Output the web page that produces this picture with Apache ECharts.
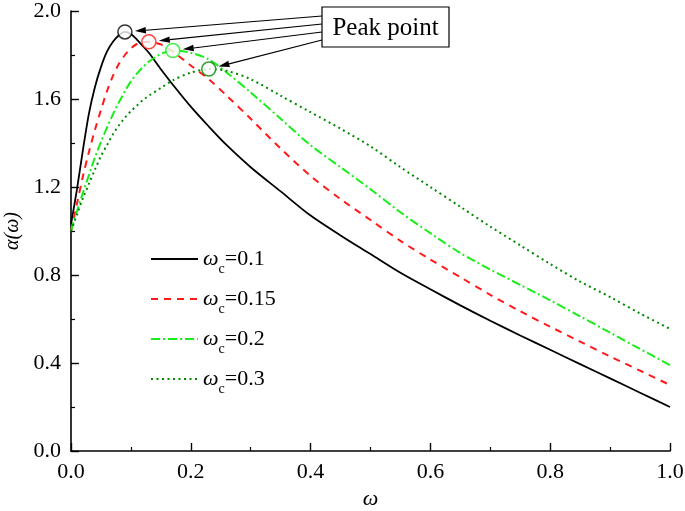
<!DOCTYPE html>
<html><head><meta charset="utf-8">
<script src="https://cdn.jsdelivr.net/npm/echarts@6/dist/echarts.min.js"></script>
<style>html,body{margin:0;padding:0;background:#fff}#c{width:685px;height:511px}</style>
</head><body><div id="c"></div>
<script>
const omega = [0, 0.01, 0.02, 0.03, 0.04, 0.05, 0.06, 0.07, 0.08, 0.09, 0.10, 0.11, 0.12, 0.13, 0.15, 0.17, 0.20, 0.23, 0.26, 0.30, 0.35, 0.40, 0.45, 0.50, 0.55, 0.60, 0.65, 0.70, 0.75, 0.80, 0.85, 0.90, 0.95, 1.00];
const alphaWc010 = [1.03, 1.19, 1.37, 1.535, 1.655, 1.745, 1.815, 1.86, 1.89, 1.905, 1.895, 1.87, 1.84, 1.81, 1.735, 1.665, 1.565, 1.475, 1.39, 1.29, 1.18, 1.07, 0.98, 0.895, 0.81, 0.735, 0.662, 0.592, 0.525, 0.46, 0.395, 0.33, 0.265, 0.20];
const alphaWc015 = [1.0, 1.125, 1.25, 1.36, 1.46, 1.55, 1.635, 1.705, 1.76, 1.80, 1.83, 1.85, 1.858, 1.86, 1.848, 1.815, 1.752, 1.69, 1.615, 1.51, 1.375, 1.25, 1.145, 1.05, 0.955, 0.87, 0.79, 0.71, 0.635, 0.565, 0.497, 0.43, 0.365, 0.30];
const alphaWc020 = [1.0, 1.09, 1.175, 1.255, 1.335, 1.405, 1.47, 1.53, 1.585, 1.635, 1.68, 1.715, 1.745, 1.77, 1.805, 1.82, 1.81, 1.78, 1.72, 1.63, 1.51, 1.39, 1.29, 1.19, 1.085, 0.99, 0.90, 0.825, 0.755, 0.685, 0.612, 0.538, 0.464, 0.39];
const alphaWc030 = [1.0, 1.075, 1.15, 1.215, 1.28, 1.34, 1.39, 1.44, 1.48, 1.515, 1.545, 1.57, 1.595, 1.615, 1.65, 1.685, 1.72, 1.736, 1.728, 1.69, 1.615, 1.54, 1.465, 1.385, 1.29, 1.20, 1.11, 1.02, 0.935, 0.85, 0.77, 0.70, 0.625, 0.555];
const seriesKeys = ['wc0.1', 'wc0.15', 'wc0.2', 'wc0.3'];
const seriesLabels = ['0.1', '0.15', '0.2', '0.3'];
const peakOmega = [0.09, 0.13, 0.17, 0.23];
const peakAlpha = [1.905, 1.86, 1.82, 1.736];
const annotationText = 'Peak point';
const xAxisTitle = 'ω';
const yAxisTitle = 'α(ω)';

const colors = ['#000000', '#ff1a1a', '#1aee1a', '#008a00'];
const dashes = ['solid', [7, 6], [9, 3, 2, 3], [2, 3.5]];
const allData = [alphaWc010, alphaWc015, alphaWc020, alphaWc030];
const FONT = 'Liberation Serif';

const chart = echarts.init(document.getElementById('c'), null, {renderer: 'canvas'});

const series = allData.map((arr, i) => ({
  name: seriesKeys[i],
  type: 'line',
  data: omega.map((x, j) => [x, arr[j]]),
  symbol: 'none',
  smooth: 0.3,
  lineStyle: {color: colors[i], width: i === 0 ? 1.8 : 2, type: dashes[i]},
  itemStyle: {color: colors[i]},
  z: 3
}));
series.push({
  name: 'peaks',
  type: 'scatter',
  data: peakOmega.map((x, i) => ({value: [x, peakAlpha[i]], itemStyle: {color: '#fff', borderColor: colors[i], borderWidth: 1.5}})),
  symbol: 'circle',
  symbolSize: 14,
  z: 5
});

chart.setOption({
  animation: false,
  backgroundColor: '#fff',
  grid: {left: 71, right: 15, top: 11, bottom: 60, containLabel: false, outerBoundsMode: 'none'},
  legend: {
    data: seriesKeys,
    orient: 'vertical',
    left: 145,
    top: 243,
    itemWidth: 47,
    itemHeight: 14,
    itemGap: 12,
    itemStyle: {opacity: 0, color: 'transparent', borderWidth: 0},
    formatter: name => '{w|ω}{c|c}{n|=' + seriesLabels[seriesKeys.indexOf(name)] + '}',
    textStyle: {
      fontFamily: FONT, color: '#000',
      rich: {
        w: {fontFamily: FONT, fontStyle: 'italic', fontSize: 22, lineHeight: 34, verticalAlign: 'middle', color: '#000'},
        c: {fontFamily: FONT, fontSize: 14, lineHeight: 14, verticalAlign: 'bottom', color: '#000'},
        n: {fontFamily: FONT, fontSize: 22, lineHeight: 34, verticalAlign: 'middle', color: '#000'}
      }
    }
  },
  xAxis: {
    type: 'value', min: 0, max: 1, interval: 0.2,
    name: xAxisTitle, nameLocation: 'middle', nameGap: 35,
    nameTextStyle: {fontFamily: FONT, fontStyle: 'italic', fontSize: 22, color: '#000'},
    axisLine: {lineStyle: {color: '#000', width: 1.6}},
    axisTick: {inside: true, length: 8, lineStyle: {color: '#000', width: 1.4}},
    minorTick: {show: true, splitNumber: 2, length: 4, lineStyle: {color: '#000', width: 1.2}},
    splitLine: {show: false},
    axisLabel: {fontFamily: FONT, fontSize: 22, color: '#000', margin: 10, formatter: v => v.toFixed(1)}
  },
  yAxis: {
    type: 'value', min: 0, max: 2, interval: 0.4,
    name: yAxisTitle, nameLocation: 'middle', nameGap: 47, nameRotate: 90,
    nameTextStyle: {fontFamily: FONT, fontStyle: 'italic', fontSize: 20, color: '#000'},
    axisLine: {show: true, lineStyle: {color: '#000', width: 1.6}},
    axisTick: {show: true, inside: true, length: 8, lineStyle: {color: '#000', width: 1.4}},
    minorTick: {show: true, splitNumber: 2, length: 4, lineStyle: {color: '#000', width: 1.2}},
    splitLine: {show: false},
    axisLabel: {fontFamily: FONT, fontSize: 22, color: '#000', margin: 10, formatter: v => v.toFixed(1)}
  },
  series: series
});

// annotation box and arrows
const boxLeft = 322, boxTop = 7, boxW = 127, boxH = 40;
const arrowStartsY = [16, 24, 32, 40];
const gfx = [{
  type: 'rect', shape: {x: boxLeft, y: boxTop, width: boxW, height: boxH},
  style: {fill: '#fff', stroke: '#000', lineWidth: 1.2}, z: 10
}, {
  type: 'text', x: boxLeft + boxW / 2, y: boxTop + boxH / 2 + 1,
  style: {text: annotationText, font: '25px "Liberation Serif"', fill: '#000', align: 'center', verticalAlign: 'middle'}, z: 11
}];
peakOmega.forEach((x, i) => {
  const c = chart.convertToPixel({gridIndex: 0}, [x, peakAlpha[i]]);
  const sx = boxLeft, sy = arrowStartsY[i];
  const dx = c[0] - sx, dy = c[1] - sy;
  const len = Math.hypot(dx, dy);
  const ux = dx / len, uy = dy / len;
  const ex = c[0] - ux * 10, ey = c[1] - uy * 10;
  const ah = 11, aw = 3.2;
  const bx = ex - ux * ah, by = ey - uy * ah;
  gfx.push({type: 'line', shape: {x1: sx, y1: sy, x2: bx, y2: by}, style: {stroke: '#000', lineWidth: 1.1}, z: 9});
  gfx.push({type: 'polygon', shape: {points: [[ex, ey], [bx - uy * aw, by + ux * aw], [bx + uy * aw, by - ux * aw]]}, style: {fill: '#000'}, z: 9});
});
chart.setOption({graphic: gfx});
</script>
</body></html>
